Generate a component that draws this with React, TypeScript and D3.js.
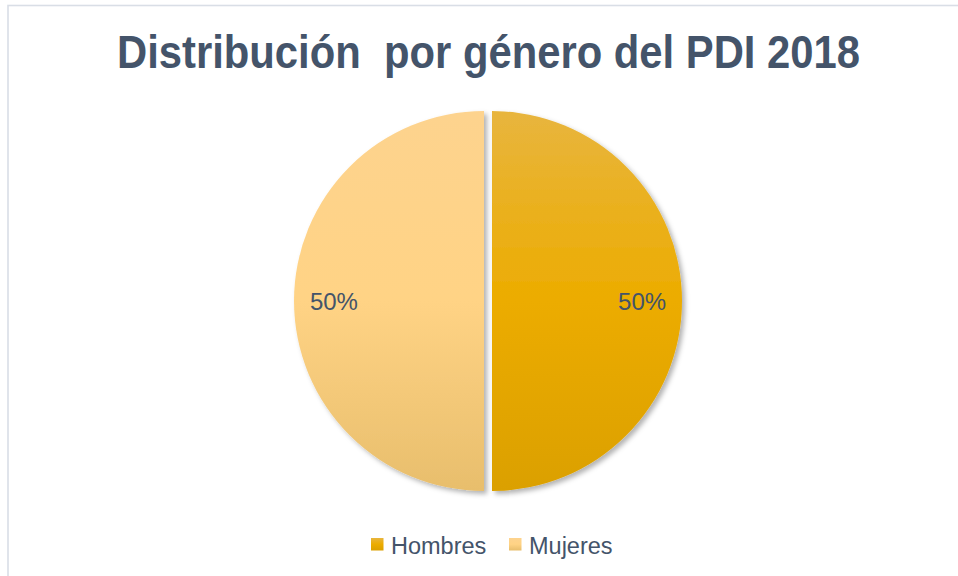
import { useEffect, useRef } from "react";
import * as d3 from "d3";

const categories = ["Hombres", "Mujeres"];
const values = [50, 50];
const labels = ["50%", "50%"];

export default function App() {
  const ref = useRef<SVGSVGElement | null>(null);

  useEffect(() => {
    const width = 958;
    const height = 576;
    const cx = 488;
    const cy = 301;
    const radius = 190;
    const explode = 4;

    const svg = d3.select(ref.current);
    svg.selectAll("*").remove();

    const defs = svg.append("defs");

    // slice gradients (top to bottom)
    const grads = [
      ["#e8b53e", "#ecac00", "#dba000"],
      ["#fdd38e", "#ffd385", "#e8be6c"],
    ];
    grads.forEach((g, i) => {
      const lg = defs
        .append("linearGradient")
        .attr("id", "grad" + i)
        .attr("x1", 0)
        .attr("y1", 0)
        .attr("x2", 0)
        .attr("y2", 1);
      lg.append("stop").attr("offset", "0%").attr("stop-color", g[0]);
      lg.append("stop").attr("offset", "50%").attr("stop-color", g[1]);
      lg.append("stop").attr("offset", "100%").attr("stop-color", g[2]);
    });

    const filter = defs
      .append("filter")
      .attr("id", "shadow")
      .attr("x", "-10%")
      .attr("y", "-10%")
      .attr("width", "120%")
      .attr("height", "120%");
    filter
      .append("feDropShadow")
      .attr("dx", 3)
      .attr("dy", 3)
      .attr("stdDeviation", 2.5)
      .attr("flood-color", "#000")
      .attr("flood-opacity", 0.3);

    // background + frame
    svg
      .append("rect")
      .attr("width", width)
      .attr("height", height)
      .attr("fill", "#ffffff");
    svg
      .append("rect")
      .attr("x", 8)
      .attr("y", 5.5)
      .attr("width", width + 20)
      .attr("height", height + 20)
      .attr("fill", "none")
      .attr("stroke", "#d9dee6")
      .attr("stroke-width", 1.6);

    // title
    svg
      .append("text")
      .attr("x", 117)
      .attr("y", 68)
      .attr("textLength", 743)
      .attr("lengthAdjust", "spacingAndGlyphs")
      .attr("font-family", "Liberation Sans, Arial, sans-serif")
      .attr("font-weight", "bold")
      .attr("font-size", 46)
      .attr("fill", "#44546a")
      .style("white-space", "pre")
      .text("Distribución  por género del PDI 2018");

    const data = categories.map((c, i) => ({ name: c, value: values[i], label: labels[i] }));
    const pie = d3
      .pie<{ name: string; value: number; label: string }>()
      .sort(null)
      .value((d) => d.value);
    const arcs = pie(data);
    const arc = d3
      .arc<d3.PieArcDatum<{ name: string; value: number; label: string }>>()
      .innerRadius(0)
      .outerRadius(radius);

    const g = svg.append("g").attr("transform", `translate(${cx},${cy})`);

    const offset = (d: d3.PieArcDatum<any>) => {
      const a = (d.startAngle + d.endAngle) / 2;
      return [Math.sin(a) * explode, -Math.cos(a) * explode];
    };

    g.selectAll("path")
      .data(arcs)
      .enter()
      .append("path")
      .attr("transform", (d) => `translate(${offset(d)[0]},${offset(d)[1]})`)
      .attr("d", arc)
      .attr("fill", (d, i) => `url(#grad${i})`)
      .attr("filter", "url(#shadow)");

    // percentage labels
    const labelArc = d3
      .arc<d3.PieArcDatum<any>>()
      .innerRadius(radius * 0.79)
      .outerRadius(radius * 0.79);
    g.selectAll("text.pct")
      .data(arcs)
      .enter()
      .append("text")
      .attr("class", "pct")
      .attr("x", (d) => labelArc.centroid(d)[0] + offset(d)[0])
      .attr("y", (d) => labelArc.centroid(d)[1] + offset(d)[1] + 9)
      .attr("text-anchor", "middle")
      .attr("font-family", "Liberation Sans, Arial, sans-serif")
      .attr("font-size", 24)
      .attr("fill", "#44546a")
      .text((d) => d.data.label);

    // legend
    const legendX = [371, 509];
    const legend = svg
      .selectAll("g.legend")
      .data(data)
      .enter()
      .append("g")
      .attr("class", "legend")
      .attr("transform", (d, i) => `translate(${legendX[i]},538)`);
    legend
      .append("rect")
      .attr("width", 12.5)
      .attr("height", 12.5)
      .attr("fill", (d, i) => `url(#grad${i})`);
    legend
      .append("text")
      .attr("x", 20)
      .attr("y", 16)
      .attr("font-family", "Liberation Sans, Arial, sans-serif")
      .attr("font-size", 23.5)
      .attr("fill", "#44546a")
      .text((d) => d.name);
  }, []);

  return (
    <svg
      ref={ref}
      width={958}
      height={576}
      style={{ position: "absolute", left: 0, top: 0, display: "block" }}
    />
  );
}
